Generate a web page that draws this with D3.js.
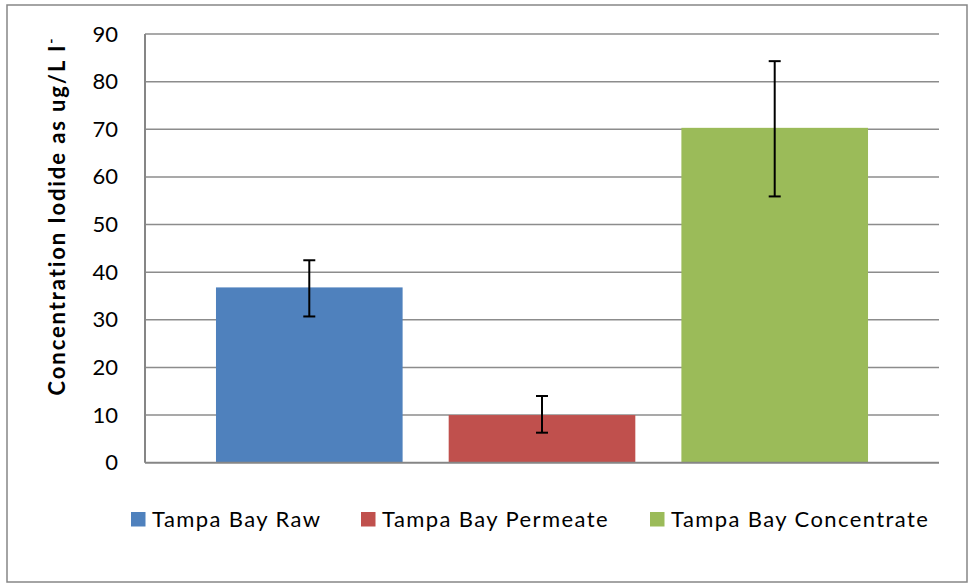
<!DOCTYPE html>
<html><head><meta charset="utf-8">
<script src="https://cdn.jsdelivr.net/npm/d3@7/dist/d3.min.js"></script>
<style>
html,body{margin:0;padding:0;background:#fff;}
svg text{font-family:Lato,"Open Sans",sans-serif;fill:#000;}
</style></head>
<body>
<svg id="c" width="969" height="584"></svg>
<script>
const series = ["Tampa Bay Raw", "Tampa Bay Permeate", "Tampa Bay Concentrate"];
const values = [36.8, 10.0, 70.3];
const errLow = [30.7, 6.3, 55.9];
const errHigh = [42.5, 14.0, 84.3];
const colors = ["#4f81bd", "#c0504d", "#9bbb59"];
const yTicks = [0, 10, 20, 30, 40, 50, 60, 70, 80, 90];

(function () {
const svg = d3.select("#c");
const pLeft = 145, pRight = 939, pTop = 34, pBottom = 462.7;

svg.append("rect").attr("x", 7).attr("y", 5).attr("width", 960).attr("height", 577)
  .attr("fill", "#fff").attr("stroke", "#868686").attr("stroke-width", 1.5);

const y = d3.scaleLinear().domain([0, 90]).range([pBottom, pTop]);
const x = d3.scaleBand().domain(series).range([pLeft, pRight]).paddingInner(0.198).paddingOuter(0.305);

// gridlines
svg.append("g").selectAll("line").data(yTicks.filter(d => d > 0)).join("line")
  .attr("x1", pLeft).attr("x2", pRight)
  .attr("y1", d => y(d)).attr("y2", d => y(d))
  .attr("stroke", "#8c8c8c").attr("stroke-width", 1.5);

// bars
svg.append("g").selectAll("rect").data(series).join("rect")
  .attr("x", d => x(d)).attr("width", x.bandwidth())
  .attr("y", (d, i) => y(values[i])).attr("height", (d, i) => y(0) - y(values[i]))
  .attr("fill", (d, i) => colors[i]);

// axes lines
svg.append("line").attr("x1", pLeft).attr("x2", pLeft).attr("y1", pTop).attr("y2", pBottom)
  .attr("stroke", "#868686").attr("stroke-width", 2);
svg.append("line").attr("x1", pLeft).attr("x2", pRight).attr("y1", pBottom).attr("y2", pBottom)
  .attr("stroke", "#868686").attr("stroke-width", 2);

// y axis tick labels
const yAxis = d3.axisLeft(y).tickValues(yTicks).tickSize(0).tickPadding(27);
const ga = svg.append("g").attr("transform", `translate(${pLeft},0)`).call(yAxis);
ga.select(".domain").remove();
ga.selectAll("text").attr("font-size", 22).attr("font-family", 'Lato,"Open Sans",sans-serif').attr("fill", "#000");

// error bars
const eg = svg.append("g").attr("stroke", "#000").attr("stroke-width", 2);
series.forEach((s, i) => {
  const cx = x(s) + x.bandwidth() / 2;
  eg.append("line").attr("x1", cx).attr("x2", cx).attr("y1", y(errLow[i])).attr("y2", y(errHigh[i]));
  eg.append("line").attr("x1", cx - 6).attr("x2", cx + 6).attr("y1", y(errLow[i])).attr("y2", y(errLow[i]));
  eg.append("line").attr("x1", cx - 6).attr("x2", cx + 6).attr("y1", y(errHigh[i])).attr("y2", y(errHigh[i]));
});

// y label
const yl = svg.append("text").attr("transform", "translate(64.5,216) rotate(-90)")
  .attr("text-anchor", "middle").attr("font-size", 22).attr("font-weight", "bold")
  .attr("letter-spacing", 1.9);
yl.append("tspan").text("Concentration Iodide as ug/L I");
yl.append("tspan").attr("dy", -9).attr("font-size", 14).text("-");

// legend
const legX = [131, 361, 650];
const lg = svg.append("g");
series.forEach((s, i) => {
  lg.append("rect").attr("x", legX[i]).attr("y", 512).attr("width", 14.5).attr("height", 14.5).attr("fill", colors[i]);
  lg.append("text").attr("x", legX[i] + 21).attr("y", 527).attr("font-size", 22)
    .attr("letter-spacing", 1.4).text(s);
});
})();
</script>
</body></html>
